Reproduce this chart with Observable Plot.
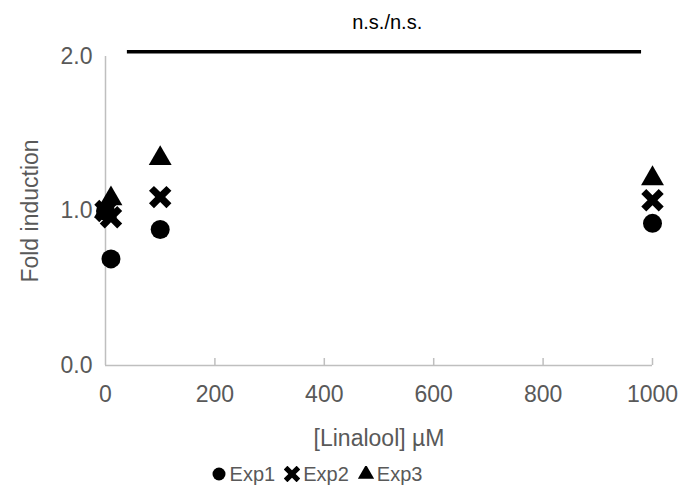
<!DOCTYPE html>
<html>
<head>
<meta charset="utf-8">
<script src="https://cdn.jsdelivr.net/npm/d3@7"></script>
<script src="https://cdn.jsdelivr.net/npm/@observablehq/plot@0.6"></script>
<style>
  html, body { margin: 0; padding: 0; background: #fff; }
  #chart { width: 683px; }
  #legend { display: flex; justify-content: center; align-items: center; gap: 9px;
    font-family: "Liberation Sans", Arial, sans-serif; font-size: 20px; color: #595959;
    height: 38px; margin-left: -50px; }
  .item { display: flex; align-items: center; gap: 3px; }
</style>
</head>
<body>
<div id="chart"></div>
<script>
// ---- data ----
const concentrations = [0, 10, 100, 1000];
const exp1 = [1.00, 0.69, 0.88, 0.92];
const exp2 = [1.00, 0.96, 1.09, 1.07];
const exp3 = [1.00, 1.08, 1.34, 1.21];
const seriesNames = ["Exp1", "Exp2", "Exp3"];
const xTicks = [0, 200, 400, 600, 800, 1000];
const yTicks = [0, 1, 2];
const xLabel = "[Linalool] \u00b5M";
const yLabel = "Fold induction";
const sigBar = [{from: 40, to: 980, level: 2.03}];
const sigText = [{at: 515, level: 2.22, text: "n.s./n.s."}];

// thick X symbol
const symbolBoldX = {
  draw(ctx, size) {
    const r = Math.sqrt(size / Math.PI);
    const L = 1.3 * r, t = 0.37 * r;
    const pts = [[t,-L],[t,-t],[L,-t],[L,t],[t,t],[t,L],[-t,L],[-t,t],[-L,t],[-L,-t],[-t,-t],[-t,-L]];
    const c = Math.SQRT1_2;
    pts.forEach(([x, y], i) => {
      const X = (x - y) * c, Y = (x + y) * c;
      i ? ctx.lineTo(X, Y) : ctx.moveTo(X, Y);
    });
    ctx.closePath();
  }
};
const symbols = [d3.symbolCircle, symbolBoldX, d3.symbolTriangle];
const radii = [9.5, 9.5, 8.5];

const seriesValues = [exp1, exp2, exp3];
const rows = seriesNames.flatMap((name, s) =>
  concentrations.map((c, i) => ({series: name, s, conc: c, value: seriesValues[s][i]})));

const axisGray = "#bfbfbf";
const textGray = "#595959";

const plot = Plot.plot({
  width: 683,
  height: 455,
  marginLeft: 105,
  marginRight: 31,
  marginTop: 56,
  marginBottom: 90,
  x: {domain: [xTicks[0], xTicks[xTicks.length - 1]]},
  y: {domain: [yTicks[0], yTicks[yTicks.length - 1]]},
  style: {fontFamily: "'Liberation Sans', Arial, sans-serif", fontSize: "22px", color: textGray, background: "#fff", overflow: "visible"},
  marks: [
    Plot.ruleX([xTicks[0]], {y1: yTicks[0], y2: yTicks[yTicks.length - 1], stroke: axisGray, strokeWidth: 1.5}),
    Plot.ruleY([yTicks[0]], {stroke: axisGray, strokeWidth: 1.5}),
    Plot.axisX({ticks: xTicks.slice(1), tickSize: 7, dy: -7, tickFormat: () => "", stroke: axisGray, strokeWidth: 1.5, label: null}),
    Plot.axisX({ticks: xTicks, tickSize: 0, tickPadding: 20, tickFormat: d3.format("d"), fontSize: 23, label: null, fill: textGray}),
    Plot.axisX({ticks: [], tickSize: 0, label: xLabel, labelAnchor: "center", labelOffset: 80, labelArrow: "none", fontSize: 23, fill: textGray}),
    Plot.axisY({ticks: yTicks, tickSize: 0, tickPadding: 13, tickFormat: d3.format(".1f"), fontSize: 23, label: null, fill: textGray}),
    Plot.axisY({ticks: [], tickSize: 0, label: yLabel, labelAnchor: "center", labelOffset: 84, labelArrow: "none", fontSize: 23, fill: textGray}),
    Plot.ruleY(sigBar, {y: "level", x1: "from", x2: "to", stroke: "#000", strokeWidth: 3.5, clip: false}),
    Plot.text(sigText, {x: "at", y: "level", text: "text", fill: "#000", fontSize: 20, clip: false}),
    ...seriesNames.map((name, s) =>
      Plot.dot(rows.filter(d => d.s === s), {x: "conc", y: "value", symbol: () => symbols[s], r: radii[s], fill: "#000", stroke: "none"}))
  ]
});
document.getElementById("chart").appendChild(plot);

// legend (HTML)
const legend = document.createElement("div");
legend.id = "legend";
seriesNames.forEach((name, s) => {
  const item = document.createElement("span");
  item.className = "item";
  const sz = 16;
  const svg = d3.create("svg").attr("width", sz).attr("height", sz).attr("viewBox", `${-sz/2} ${-sz/2} ${sz} ${sz}`);
  const rr = [6.5, 7, 6][s];
  svg.append("path").attr("d", d3.symbol(symbols[s], Math.PI * rr * rr)()).attr("fill", "#000");
  item.appendChild(svg.node());
  const t = document.createElement("span");
  t.textContent = name;
  item.appendChild(t);
  legend.appendChild(item);
});
document.body.appendChild(legend);
</script>
</body>
</html>
